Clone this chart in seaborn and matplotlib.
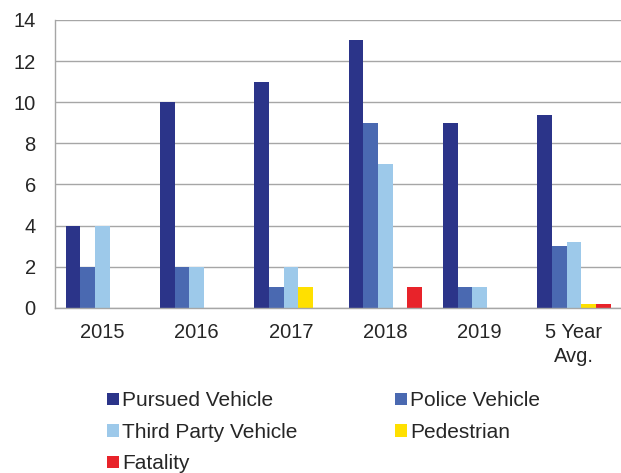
import pandas as pd
import numpy as np
import matplotlib
matplotlib.use('Agg')
import matplotlib.pyplot as plt
import seaborn as sns
from matplotlib.patches import Patch

# Datos
years = ['2015', '2016', '2017', '2018', '2019', '5 Year\nAvg.']
pursued = [4, 10, 11, 13, 9, 9.4]
police = [2, 2, 1, 9, 1, 3.0]
third_party = [4, 2, 2, 7, 1, 3.2]
pedestrian = [0, 0, 1, 0, 0, 0.2]
fatality = [0, 0, 0, 1, 0, 0.2]

series = ['Pursued Vehicle', 'Police Vehicle', 'Third Party Vehicle', 'Pedestrian', 'Fatality']
colors = ['#2B3489', '#4A69B1', '#9DC9EA', '#FFE000', '#E8232A']

df = pd.DataFrame({
    'year': years * 5,
    'value': pursued + police + third_party + pedestrian + fatality,
    'serie': [s for s in series for _ in years],
})

sns.set_style('white')
plt.rcParams['font.family'] = ['Liberation Sans', 'DejaVu Sans']

fig = plt.figure(figsize=(6.21, 4.73), dpi=100)
ax = fig.add_axes([0.089, 0.349, 0.911, 0.609])

sns.barplot(data=df, x='year', y='value', hue='serie', palette=colors,
            width=0.78, linewidth=0, saturation=1, ax=ax, legend=False)

ax.set_ylim(0, 14)
ax.set_xlim(-0.5, 5.5)
ax.set_yticks(range(0, 15, 2))
ax.yaxis.grid(True, color='#A6A6A6', linewidth=1)
ax.set_axisbelow(True)
ax.set_xlabel('')
ax.set_ylabel('')

for s in ['top', 'right']:
    ax.spines[s].set_visible(False)
for s in ['left', 'bottom']:
    ax.spines[s].set_color('#A6A6A6')
    ax.spines[s].set_linewidth(1)

ax.tick_params(axis='y', which='major', length=5, color='#A6A6A6', labelsize=14.5, pad=9)
ax.tick_params(axis='x', which='major', length=0, labelsize=14.5, pad=11)
ax.set_xticks(np.arange(-0.5, 6, 1), minor=True)
ax.tick_params(axis='x', which='minor', length=5, color='#A6A6A6')
for lbl in ax.get_xticklabels():
    lbl.set_linespacing(1.35)

# orden por filas como en el original (matplotlib llena por columnas)
order = [0, 2, 4, 1, 3]
handles = [Patch(facecolor=colors[i], edgecolor='none') for i in order]
labels = [series[i] for i in order]
fig.legend(handles, labels, loc='upper left', bbox_to_anchor=(0.173, 0.173),
           ncol=2, frameon=False, fontsize=15, handlelength=0.55, handleheight=0.55,
           handletextpad=0.15, columnspacing=4.7, labelspacing=0.6,
           borderaxespad=0, borderpad=0)

fig.savefig('out.png', dpi=100)
